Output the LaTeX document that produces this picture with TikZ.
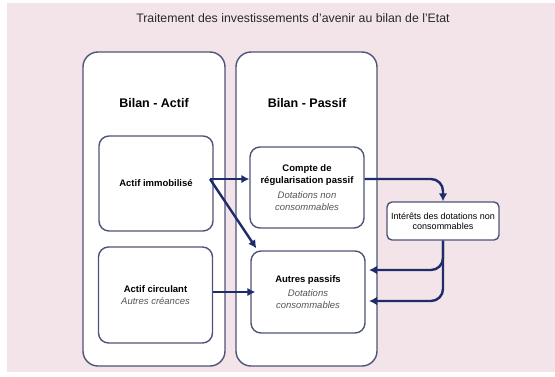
\documentclass[tikz,border=0pt]{standalone}
\usepackage{fontspec}
\setmainfont{Liberation Sans}
\usetikzlibrary{arrows.meta,calc}
\definecolor{bgpink}{HTML}{F3E4E9}
\definecolor{boxline}{HTML}{4E5378}
\definecolor{arrowc}{HTML}{1F2C6C}
\definecolor{subtxt}{HTML}{555555}
\definecolor{titletxt}{HTML}{2A2A2A}
\newcommand{\subtx}[1]{{\fontsize{9.5}{12}\selectfont\mdseries\itshape\color{subtxt}#1}}
\tikzset{
  bigbox/.style={draw=boxline,line width=1.4pt,fill=white,rounded corners=15pt,inner sep=0pt},
  innerbox/.style={draw=boxline,line width=1.4pt,fill=white,rounded corners=10pt,align=center,inner sep=0pt,
     font=\fontsize{9.5}{11.5}\selectfont\bfseries},
  smallbox/.style={draw=boxline,line width=1.4pt,fill=white,rounded corners=5pt,align=center,inner sep=0pt,
     font=\fontsize{9}{10.5}\selectfont},
  conn/.style={draw=arrowc,line width=2.4pt,-{Latex[length=8pt,width=8.5pt]}},
  lbl/.style={font=\fontsize{12.5}{14}\selectfont\bfseries}
}
\begin{document}
\begin{tikzpicture}[x=1pt,y=-1pt]
\useasboundingbox (0,0) rectangle (555,376);
\fill[white] (0,0) rectangle (555,376);
\fill[bgpink] (7,3) rectangle (555,372);
\node[font=\fontsize{12.3}{14}\selectfont,text=titletxt] (title) at (293,18) {Traitement des investissements d'avenir au bilan de l'Etat};

\node[bigbox,minimum width=142pt,minimum height=314pt] (actif) at (154,209) {};
\node[bigbox,minimum width=141pt,minimum height=314pt] (passif) at (306.5,209) {};
\node[lbl] (la) at (154,103) {Bilan - Actif};
\node[lbl] (lp) at (307,103) {Bilan - Passif};

\node[innerbox,minimum width=114pt,minimum height=95pt] (immo) at (156,183.5) {Actif immobilisé};
\node[innerbox,minimum width=114pt,minimum height=96pt] (circ) at (155.5,295)
  {Actif circulant\\[1pt]\subtx{Autres créances}};
\node[innerbox,minimum width=114pt,minimum height=81pt] (compte) at (307,187.5)
  {Compte de\\régularisation passif\\[4pt]\subtx{Dotations non}\\\subtx{consommables}};
\node[innerbox,minimum width=114pt,minimum height=82pt] (autres) at (308,292)
  {Autres passifs\\[3pt]\subtx{Dotations}\\\subtx{consommables}};
\node[smallbox,minimum width=112pt,minimum height=38pt] (inter) at (443,221)
  {Intérêts des dotations non\\consommables};

\coordinate (src) at (210,179);
\coordinate (in1) at (369,270);
\coordinate (in2) at (369,301);
\draw[conn] (src) -- (compte.west |- src);
\draw[conn] (src) -- ([xshift=6pt,yshift=2pt]autres.north west);
\draw[conn] (circ.east |- autres.west) -- ([xshift=5pt]autres.west);
\draw[conn,rounded corners=12pt] (compte.east |- src) -| (inter.north);
\draw[conn,rounded corners=12pt] (inter.south) |- (in1);
\draw[conn,rounded corners=12pt] (inter.south) |- (in2);
\end{tikzpicture}
\end{document}
